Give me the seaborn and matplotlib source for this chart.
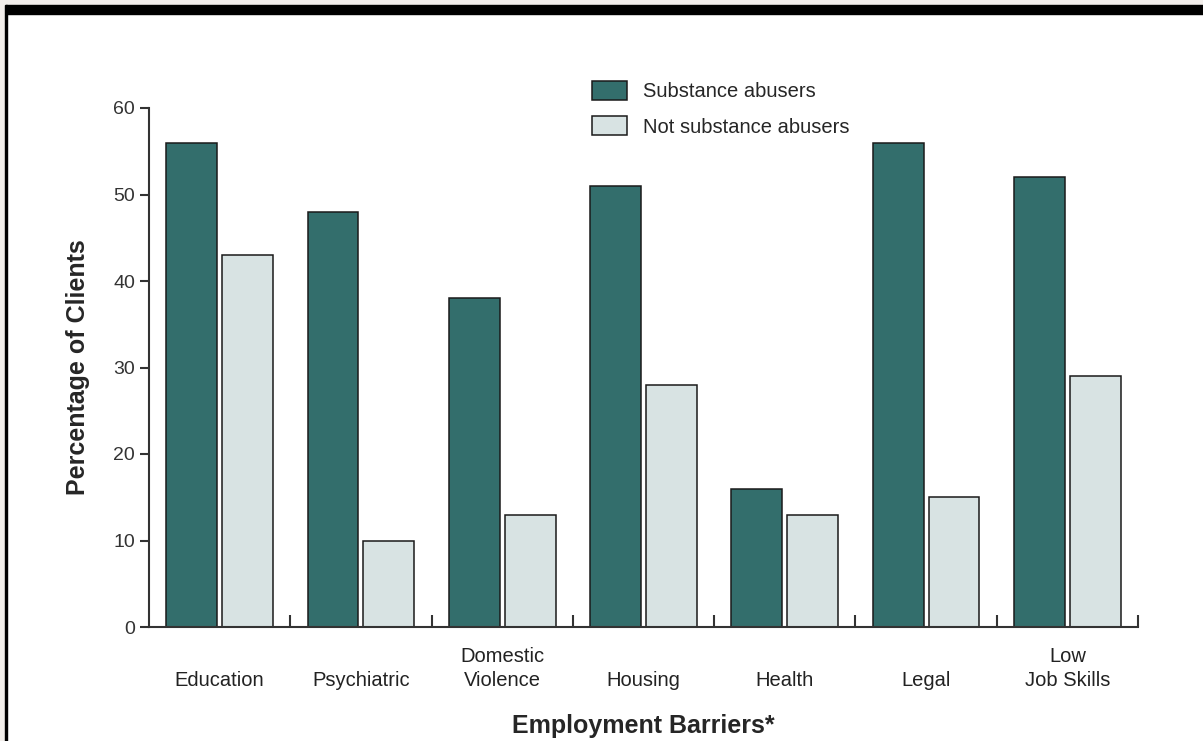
import matplotlib.pyplot as plt
from matplotlib.patches import Rectangle
from matplotlib.ticker import FixedLocator
import seaborn as sns
import pandas as pd

# values
barriers = ['Education', 'Psychiatric', 'Domestic\nViolence', 'Housing', 'Health', 'Legal', 'Low\nJob Skills']
abusers = [56, 48, 38, 51, 16, 56, 52]
non_abusers = [43, 10, 13, 28, 13, 15, 29]
groups = ['Substance abusers', 'Not substance abusers']
colors = ['#336e6c', '#d8e3e3']
y_ticks = [0, 10, 20, 30, 40, 50, 60]

df = pd.DataFrame({
    'barrier': barriers * 2,
    'pct': abusers + non_abusers,
    'group': [groups[0]] * len(barriers) + [groups[1]] * len(barriers),
})

sns.set_style('white')
plt.rcParams['font.family'] = ['Liberation Sans', 'DejaVu Sans']

fig = plt.figure(figsize=(12.03, 7.41), dpi=100)
ax = fig.add_axes([149 / 1203, 114 / 741, 989 / 1203, 519 / 741])

sns.barplot(data=df, x='barrier', y='pct', hue='group', hue_order=groups,
            palette=colors, saturation=1, width=0.79, gap=0.09,
            edgecolor='#1a1a1a', linewidth=1.1, ax=ax)

ax.set_xlim(-0.5, len(barriers) - 0.5)
ax.set_ylim(0, 60)
ax.set_yticks(y_ticks)

# spines
sns.despine(ax=ax)
for side in ['left', 'bottom']:
    ax.spines[side].set_color('#333333')
    ax.spines[side].set_linewidth(1.5)

# boundary ticks between the categories
ax.xaxis.set_minor_locator(FixedLocator([i + 0.5 for i in range(len(barriers))]))
ax.tick_params(axis='x', which='minor', direction='in', length=8.5, width=1.5, color='#333333', bottom=True)
ax.tick_params(axis='x', which='major', length=0, pad=45, labelsize=14.5, labelcolor='#222222')
for lbl in ax.get_xticklabels():
    lbl.set_verticalalignment('bottom')
    lbl.set_linespacing(1.3)
ax.tick_params(axis='y', direction='out', length=6.5, width=1.5, color='#333333',
               pad=3.5, labelsize=14, labelcolor='#333333', left=True)

ax.set_xlabel('Employment Barriers*', fontsize=18, fontweight='bold', labelpad=18)
ax.set_ylabel('Percentage of Clients', fontsize=18, fontweight='bold', labelpad=17)

ax.legend(loc='upper left', bbox_to_anchor=(592 / 1203, 1 - 81 / 741), bbox_transform=fig.transFigure,
          frameon=False, fontsize=14.5, handlelength=1.75, handleheight=1.05,
          handletextpad=0.8, labelspacing=0.75, borderpad=0, borderaxespad=0)

# page frame around the chart
fig.patches.append(Rectangle((0, 1 - 5 / 741), 1, 5 / 741, transform=fig.transFigure, color='#f2eeeb', zorder=0))
fig.patches.append(Rectangle((0, 1 - 14 / 741), 1, 9 / 741, transform=fig.transFigure, color='black', zorder=0))
fig.patches.append(Rectangle((0, 0), 5 / 1203, 1, transform=fig.transFigure, color='#f2eeeb', zorder=0))
fig.patches.append(Rectangle((5 / 1203, 0), 2 / 1203, 1 - 5 / 741, transform=fig.transFigure, color='black', zorder=0))

fig.savefig('out.png', dpi=100)
